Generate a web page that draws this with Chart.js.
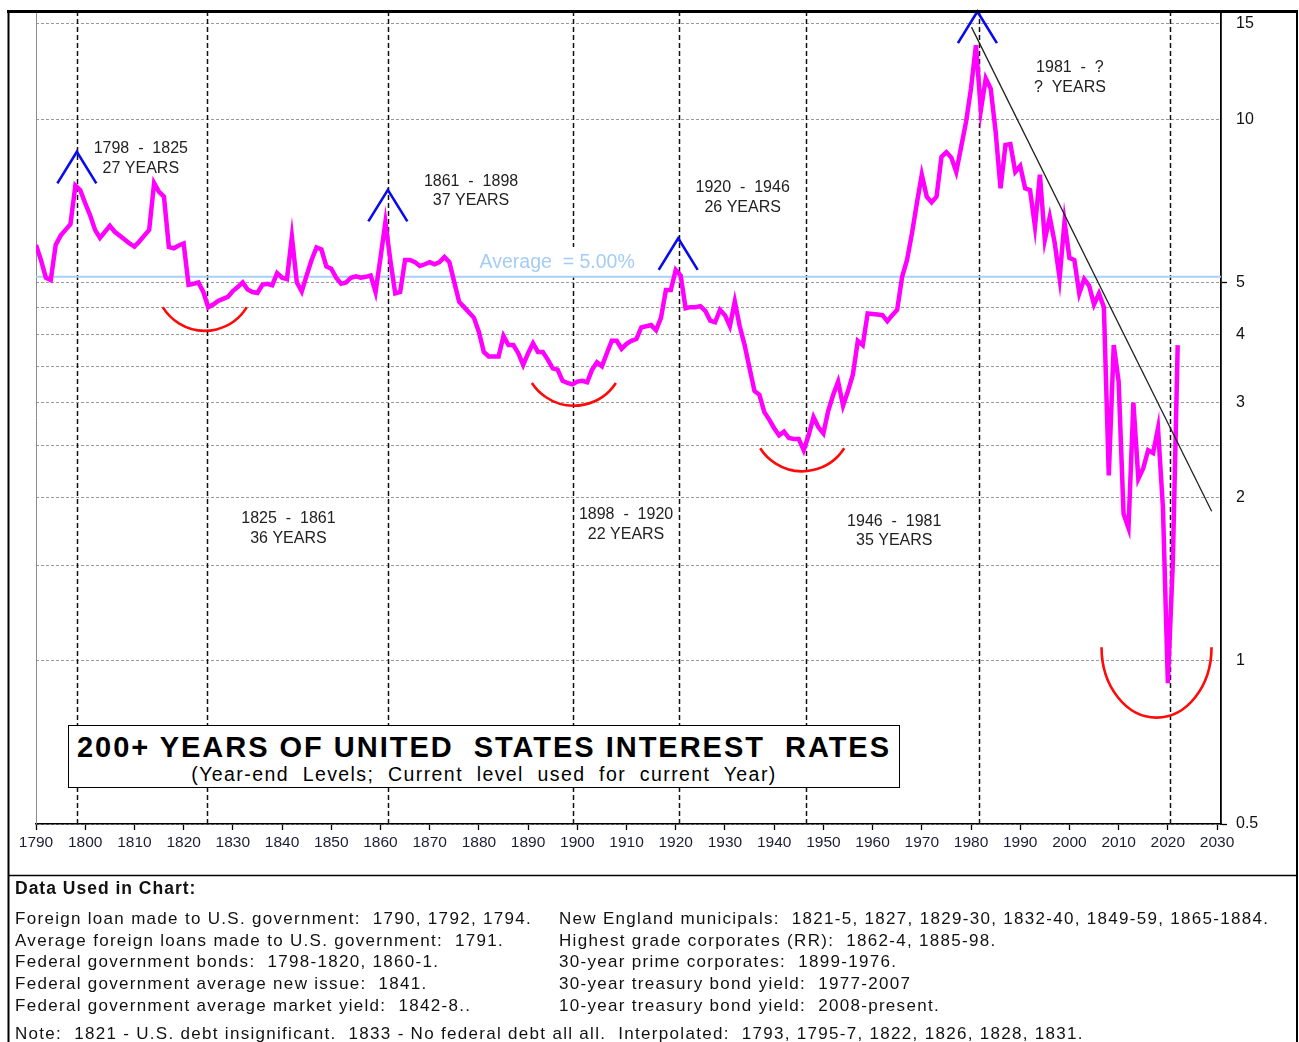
<!DOCTYPE html>
<html>
<head>
<meta charset="utf-8">
<script src="https://cdn.jsdelivr.net/npm/chart.js@4.4.0/dist/chart.umd.min.js"></script>
<style>
html,body{margin:0;padding:0;background:#fff;}
#wrap{position:relative;width:1299px;height:1042px;overflow:hidden;font-family:"Liberation Sans",Arial,sans-serif;}
#chart{position:absolute;left:0;top:0;}
.t{position:absolute;white-space:pre;color:#000;}
#titlebox{position:absolute;left:68px;top:725px;width:832px;height:63px;box-sizing:border-box;border:1.5px solid #000;background:#fff;}
.center{position:absolute;left:68px;width:832px;text-align:center;white-space:pre;}
.center span{display:inline-block;white-space:pre;}
#title{top:732.5px;font-size:29px;line-height:29px;font-weight:bold;}
#subtitle{top:765px;font-size:19.5px;line-height:19.5px;}
.n{font-size:17px;line-height:17px;letter-spacing:1.3px;color:#111;}
#dataHead{left:15px;top:880px;font-size:17.5px;line-height:17.5px;font-weight:bold;letter-spacing:1px;color:#111;}
</style>
</head>
<body>
<div id="wrap">
  <canvas id="chart" width="1299" height="1042"></canvas>
  <div id="titlebox"></div>
  <div class="center" id="title"><span data-fit="812">200+ YEARS OF UNITED  STATES INTEREST  RATES</span></div>
  <div class="center" id="subtitle"><span data-fit="584">(Year-end  Levels;  Current  level  used  for  current  Year)</span></div>
  <div class="t" id="dataHead">Data Used in Chart:</div>
  <div id="notes"></div>
</div>
<script>
// ---------------- DATA ----------------
const firstYear = 1790;
const rates = [
  5.86,5.5,5.1,5.05,5.86,6.1,6.25,6.4,7.55,7.4,      // 1790s
  7.0,6.65,6.25,6.04,6.2,6.36,6.2,6.1,6.0,5.9,       // 1800s
  5.82,5.95,6.1,6.25,7.63,7.35,7.2,5.81,5.78,5.85,   // 1810s
  5.9,4.95,4.97,5.0,4.8,4.5,4.55,4.62,4.66,4.7,      // 1820s
  4.82,4.9,5.0,4.85,4.8,4.78,4.95,4.97,4.94,5.2,     // 1830s
  5.1,5.07,6.07,5.0,4.81,5.15,5.5,5.8,5.75,5.35,     // 1840s
  5.3,5.1,4.97,5.0,5.1,5.13,5.1,5.12,5.15,4.8,       // 1850s
  5.55,6.46,5.5,4.77,4.8,5.5,5.5,5.45,5.36,5.4,      // 1860s
  5.45,5.4,5.45,5.57,5.45,5.0,4.6,4.5,4.4,4.3,       // 1870s
  4.05,3.72,3.65,3.65,3.65,3.98,3.83,3.83,3.7,3.52,  // 1880s
  3.7,3.86,3.72,3.72,3.6,3.47,3.45,3.29,3.26,3.24,   // 1890s
  3.28,3.29,3.27,3.45,3.56,3.5,3.7,3.9,3.9,3.77,     // 1900s
  3.85,3.9,3.93,4.13,4.15,4.17,4.08,4.3,4.84,4.84,   // 1910s
  5.27,5.15,4.48,4.5,4.5,4.52,4.43,4.25,4.22,4.45,   // 1920s
  4.35,4.15,4.61,4.15,3.83,3.47,3.15,3.1,2.88,2.79,  // 1930s
  2.69,2.61,2.65,2.58,2.57,2.57,2.45,2.61,2.82,2.7,  // 1940s
  2.63,2.9,3.1,3.28,2.96,3.15,3.38,3.9,3.83,4.38,    // 1950s
  4.37,4.36,4.35,4.24,4.35,4.45,5.12,5.5,6.16,7.0,   // 1960s
  7.9,7.2,7.03,7.2,8.53,8.7,8.5,8.0,8.9,9.9,         // 1970s
  11.4,13.7,10.4,11.9,11.4,9.5,7.46,8.97,9.0,8.0,    // 1980s
  8.2,7.46,7.4,6.34,7.9,5.99,6.6,5.92,5.09,6.47,     // 1990s
  5.55,5.5,4.77,5.07,4.93,4.55,4.77,4.5,2.2,3.83,    // 2000s
  3.28,1.87,1.76,3.0,2.17,2.27,2.45,2.42,2.69,1.92,  // 2010s
  0.91,1.51,3.83                                     // 2020s
];
const xTickYears = [1790,1800,1810,1820,1830,1840,1850,1860,1870,1880,1890,1900,1910,1920,1930,1940,1950,1960,1970,1980,1990,2000,2010,2020,2030];
const yGridValues = [0.5,1,1.5,2,2.5,3,3.5,4,4.5,5,10,15];
const yLabelValues = [0.5,1,2,3,4,5,10,15];
const averageText = 'Average  = 5.00%';
const averageLevel = 5.12;            // where the average line sits in the picture
const cycleLineYears = [1798.3,1824.8,1861.5,1899.2,1920.6,1946.5,1981.6,2020.4];
const cycleLabels = [
  ['1798  -  1825','27 YEARS'],
  ['1861  -  1898','37 YEARS'],
  ['1920  -  1946','26 YEARS'],
  ['1981  -  ?','?  YEARS'],
  ['1825  -  1861','36 YEARS'],
  ['1898  -  1920','22 YEARS'],
  ['1946  -  1981','35 YEARS']
];
const cycleLabelAnchors = [[1811.3,8.82],[1878.4,7.69],[1933.6,7.47],[2000.1,12.44],[1841.3,1.83],[1909.9,1.86],[1964.4,1.81]];
const peakMarks = [[1798.3,8.71],[1861.5,7.41],[1920.5,6.03],[1981.3,15.81]];
const troughMarks = [ // [centerYear, topValue, bottomValue, shape]
  [1824.3,4.50,4.07,'circle'],
  [1899.3,3.26,2.96,'circle'],
  [1945.7,2.47,2.24,'circle'],
  [2017.7,1.06,0.786,'ellipse']
];
const trendLine = [[1980.1,14.8],[2028.9,1.89]];
const notesLeft = [
  'Foreign loan made to U.S. government:  1790, 1792, 1794.',
  'Average foreign loans made to U.S. government:  1791.',
  'Federal government bonds:  1798-1820, 1860-1.',
  'Federal government average new issue:  1841.',
  'Federal government average market yield:  1842-8..'
];
const notesRight = [
  'New England municipals:  1821-5, 1827, 1829-30, 1832-40, 1849-59, 1865-1884.',
  'Highest grade corporates (RR):  1862-4, 1885-98.',
  '30-year prime corporates:  1899-1976.',
  '30-year treasury bond yield:  1977-2007',
  '10-year treasury bond yield:  2008-present.'
];
const noteLine = 'Note:  1821 - U.S. debt insignificant.  1833 - No federal debt all all.  Interpolated:  1793, 1795-7, 1822, 1826, 1828, 1831.';

// ---------------- NOTES (HTML text) ----------------
const notesEl = document.getElementById('notes');
const lineTops = [910,931.7,953.4,975.1,996.8];
notesLeft.forEach((s,i)=>{const d=document.createElement('div');d.className='t n';d.style.left='15px';d.style.top=lineTops[i]+'px';d.textContent=s;notesEl.appendChild(d);});
notesRight.forEach((s,i)=>{const d=document.createElement('div');d.className='t n';d.style.left='559px';d.style.top=lineTops[i]+'px';d.textContent=s;notesEl.appendChild(d);});
{const d=document.createElement('div');d.className='t n';d.style.left='15px';d.style.top='1024.5px';d.textContent=noteLine;notesEl.appendChild(d);}
document.querySelectorAll('[data-fit]').forEach(el=>{
  el.style.letterSpacing='0px';
  const w=el.getBoundingClientRect().width;
  const n=el.textContent.length;
  el.style.letterSpacing=((+el.dataset.fit - w)/Math.max(n-1,1))+'px';
});

// ---------------- CHART ----------------
const FONT = '"Liberation Sans", Arial, sans-serif';
Chart.defaults.font.family = FONT;

const overlay = {
  id:'overlay',
  beforeDatasetsDraw(chart){
    const {ctx, chartArea:a, scales:{x,y}} = chart;
    ctx.save();
    // plot left edge
    ctx.strokeStyle='#8c8c8c'; ctx.lineWidth=1;
    ctx.beginPath(); ctx.moveTo(a.left+0.5,a.top); ctx.lineTo(a.left+0.5,a.bottom); ctx.stroke();
    // cycle dashed lines
    ctx.strokeStyle='#111'; ctx.lineWidth=1.5; ctx.setLineDash([5,3]);
    cycleLineYears.forEach(yr=>{
      const px=Math.round(x.getPixelForValue(yr))+0.5;
      ctx.beginPath(); ctx.moveTo(px,a.top); ctx.lineTo(px,a.bottom); ctx.stroke();
    });
    ctx.setLineDash([]);
    // average label background, line, text
    ctx.font='19.5px '+FONT;
    const tx=x.getPixelForValue(1895.9), ty=y.getPixelForValue(5.43);
    const tw=ctx.measureText(averageText).width;
    ctx.fillStyle='#fff';
    ctx.fillRect(tx-tw/2-3, ty-16, tw+6, 29);
    const ya=y.getPixelForValue(averageLevel);
    ctx.strokeStyle='#a9d1f7'; ctx.lineWidth=2;
    ctx.beginPath(); ctx.moveTo(a.left,ya); ctx.lineTo(a.right,ya); ctx.stroke();
    ctx.fillStyle='#a4cdf6'; ctx.textAlign='center'; ctx.textBaseline='middle';
    ctx.fillText(averageText, tx, ty);
    ctx.restore();
  },
  afterDatasetsDraw(chart){
    const {ctx, scales:{x,y}} = chart;
    ctx.save();
    // trend line
    ctx.strokeStyle='#222'; ctx.lineWidth=1.3;
    ctx.beginPath();
    ctx.moveTo(x.getPixelForValue(trendLine[0][0]), y.getPixelForValue(trendLine[0][1]));
    ctx.lineTo(x.getPixelForValue(trendLine[1][0]), y.getPixelForValue(trendLine[1][1]));
    ctx.stroke();
    // peak carets
    ctx.strokeStyle='#0a0af0'; ctx.lineWidth=2.6; ctx.lineJoin='miter';
    peakMarks.forEach(([yr,v])=>{
      const px=x.getPixelForValue(yr), py=y.getPixelForValue(v);
      ctx.beginPath(); ctx.moveTo(px-19.5,py+31.5); ctx.lineTo(px,py); ctx.lineTo(px+19.5,py+31.5); ctx.stroke();
    });
    // trough arcs
    ctx.strokeStyle='#ff0a0a'; ctx.lineWidth=2.6;
    troughMarks.forEach(([yr,top,bot,shape])=>{
      const cx=x.getPixelForValue(yr), yt=y.getPixelForValue(top), yb=y.getPixelForValue(bot);
      const s=yb-yt;
      ctx.beginPath();
      if(shape==='ellipse'){
        ctx.ellipse(cx, yt, 55, s, 0, 0, Math.PI);
      } else {
        const w=42;
        const r=(w*w+s*s)/(2*s), cy=yb-r;
        const a0=Math.atan2(yt-cy, w);
        ctx.arc(cx, cy, r, a0, Math.PI-a0);
      }
      ctx.stroke();
    });
    // cycle labels
    ctx.fillStyle='#222'; ctx.font='16px '+FONT; ctx.textAlign='center'; ctx.textBaseline='middle';
    cycleLabels.forEach(([l1,l2],i)=>{
      const [yr,v]=cycleLabelAnchors[i];
      const px=x.getPixelForValue(yr), py=y.getPixelForValue(v);
      ctx.fillText(l1, px, py);
      ctx.fillText(l2, px, py+19.5);
    });
    ctx.restore();
  },
  afterDraw(chart){
    const {ctx} = chart;
    ctx.save();
    ctx.strokeStyle='#000';
    ctx.lineWidth=3; ctx.beginPath(); ctx.moveTo(7,11.5); ctx.lineTo(1298,11.5); ctx.stroke();
    ctx.lineWidth=2;
    ctx.beginPath(); ctx.moveTo(8.5,10); ctx.lineTo(8.5,1042); ctx.stroke();
    ctx.beginPath(); ctx.moveTo(1297,10); ctx.lineTo(1297,1042); ctx.stroke();
    ctx.lineWidth=1.5;
    ctx.beginPath(); ctx.moveTo(8,875.5); ctx.lineTo(1297,875.5); ctx.stroke();
    ctx.restore();
  }
};

new Chart(document.getElementById('chart'), {
  type:'line',
  data:{
    datasets:[{
      data: rates.map((v,i)=>({x:firstYear+i, y:v})),
      borderColor:'#ff00ff',
      borderWidth:4.5,
      pointRadius:0,
      tension:0,
      fill:false,
      borderJoinStyle:'miter'
    }]
  },
  options:{
    responsive:false,
    animation:false,
    events:[],
    layout:{padding:{left:36, top:11, right:0, bottom:0}},
    plugins:{legend:{display:false}, tooltip:{enabled:false}},
    scales:{
      x:{
        type:'linear', min:1790, max:2030.8,
        afterFit:(s)=>{s.height=218; s.paddingLeft=0; s.paddingRight=0;},
        afterBuildTicks:(s)=>{s.ticks=xTickYears.map(v=>({value:v}));},
        grid:{display:true, drawOnChartArea:false, drawTicks:true, tickLength:6, tickColor:'#000', tickWidth:1.3},
        border:{display:true, color:'#000', width:1.5},
        ticks:{autoSkip:false, maxRotation:0, padding:3, color:'#1c1c36', font:{size:15.5}, callback:(v)=>String(v)}
      },
      y:{
        type:'logarithmic', position:'right', min:0.5, max:15.85,
        afterFit:(s)=>{s.width=78; s.paddingTop=0; s.paddingBottom=0;},
        afterBuildTicks:(s)=>{s.ticks=yGridValues.map(v=>({value:v}));},
        grid:{display:true, drawOnChartArea:true, drawTicks:true, tickLength:6, color:'#9a9a9a', lineWidth:1,
              tickColor:(c)=>(c.tick && (c.tick.value===5 || c.tick.value===0.5)) ? '#000' : 'rgba(0,0,0,0)', tickWidth:1.3, tickBorderDash:[]},
        border:{display:true, color:'#000', width:1.8, dash:[3,2]},
        ticks:{autoSkip:false, padding:9, color:'#111', font:{size:16},
               callback:(v)=> yLabelValues.includes(v) ? String(v) : ''}
      }
    }
  },
  plugins:[overlay]
});
</script>
</body>
</html>
